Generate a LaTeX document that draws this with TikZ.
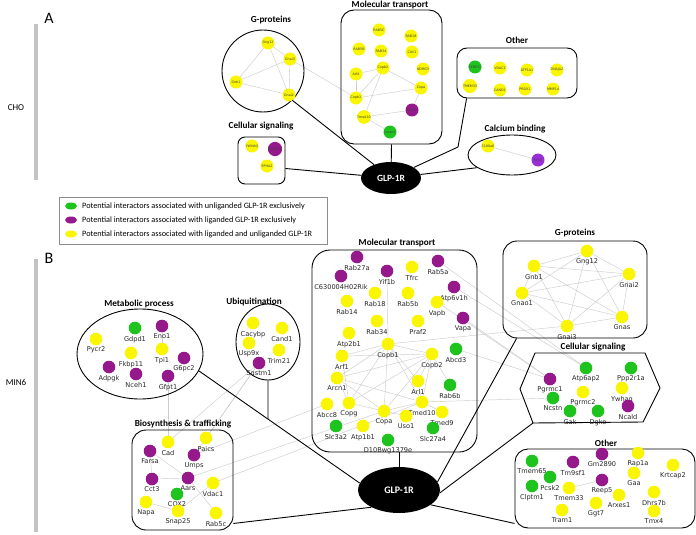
\documentclass[tikz,border=0pt]{standalone}
\usepackage{fontspec}
\setmainfont{Carlito}
\newfontfamily\dejavu{DejaVu Sans}
\usetikzlibrary{shapes.geometric,backgrounds}
\definecolor{nyel}{RGB}{250,245,0}
\definecolor{ngrn}{RGB}{30,195,30}
\definecolor{nmag}{RGB}{150,25,140}
\definecolor{nvio}{RGB}{155,45,215}
\definecolor{edgegray}{RGB}{205,205,205}
\definecolor{bargray}{RGB}{195,195,195}
\tikzset{
  bn/.style={circle, minimum size=12.6pt, inner sep=0pt},
  tn/.style={circle, minimum size=13pt, inner sep=0pt, text=black!75, font=\dejavu\fontsize{3.3}{4}\selectfont},
  blab/.style={font=\dejavu\fontsize{6.6}{7}\selectfont, inner sep=0pt, label distance=1.3pt, text=black!85},
  edge/.style={draw=edgegray, line width=0.45pt},
  grp/.style={draw=black, line width=0.9pt, inner sep=0pt},
  conn/.style={draw=black, line width=0.9pt},
  ttl/.style={font=\bfseries\fontsize{9.2}{10}\selectfont, inner sep=0pt},
  legtxt/.style={font=\fontsize{8.2}{9}\selectfont, anchor=west, inner sep=0pt},
  legdot/.style={ellipse, minimum width=12pt, minimum height=7pt, inner sep=0pt},
  glp/.style={ellipse, fill=black, text=white, inner sep=0pt, font=\bfseries\fontsize{9.5}{10}\selectfont},
}
\newcommand{\BN}[5]{\node[bn,fill=#4,label={[blab]below:#5}] (#1) at (#2,#3) {};}
\newcommand{\TN}[5]{\node[tn,fill=#4] (#1) at (#2,#3) {#5};}
\begin{document}
\begin{tikzpicture}[x=1pt,y=-1pt]
\useasboundingbox (0,0) rectangle (696,535);
\begin{pgfonlayer}{background}
\fill[white] (0,0) rectangle (696,535);
\end{pgfonlayer}

% ---------- panel labels ----------
\draw[bargray, line width=4.5pt] (36,24) -- (36,180);
\draw[bargray, line width=4.5pt] (36,259) -- (36,532);
\node[font=\fontsize{16}{18}\selectfont, inner sep=0pt] (labA) at (49,18) {A};
\node[font=\fontsize{16}{18}\selectfont, inner sep=0pt] (labB) at (49,258) {B};
\node[font=\fontsize{9}{10}\selectfont, inner sep=0pt] (labCHO) at (16,108) {CHO};
\node[font=\fontsize{9}{10}\selectfont, inner sep=0pt] (labMIN) at (16,382) {MIN6};

% ================= TOP (CHO) =================
\node[grp, ellipse, minimum width=82pt, minimum height=82pt] (topG) at (263,71) {};
\node[ttl] (topGt) at (271,20) {G-proteins};
\TN{tGng12}{268}{43}{nyel}{Gng12}
\TN{tGnb1}{236}{82}{nyel}{Gnb1}
\TN{tGnai3}{290}{59}{nyel}{Gnai3}
\TN{tGnai2}{289}{95}{nyel}{Gnai2}

\node[grp, rectangle, rounded corners=13pt, minimum width=101pt, minimum height=134pt] (topMol) at (391.5,77) {};
\node[ttl] (topMolt) at (390,5) {Molecular transport};
\TN{tRAB5C}{379}{30}{nyel}{RAB5C}
\TN{tRAB18}{411}{36}{nyel}{RAB18}
\TN{tRAB5B}{359}{49}{nyel}{RAB5B}
\TN{tRAB34}{381}{51}{nyel}{RAB34}
\TN{tCAV1}{412}{52}{nyel}{CAV1}
\TN{tNDRG3}{423}{69}{nyel}{NDRG3}
\TN{tCopb2}{383}{68}{nyel}{Copb2}
\TN{tArf4}{356}{74}{nyel}{Arf4}
\TN{tCopa}{421}{88}{nyel}{Copa}
\TN{tCopb1}{356}{98}{nyel}{Copb1}
\TN{tArcn1}{412}{110}{nmag}{Arcn1}
\TN{tTmed10}{364}{117}{nyel}{Tmed10}
\TN{tLman2}{390}{132}{ngrn}{Lman2}

\node[grp, rectangle, rounded corners=10pt, minimum width=120pt, minimum height=50pt] (topO) at (517,73) {};
\node[ttl] (topOt) at (517,40) {Other};
\TN{tFKBP11}{475}{67}{ngrn}{FKBP11}
\TN{tVDAC1}{500}{68}{nyel}{VDAC1}
\TN{tATP1A1}{527}{70}{nyel}{ATP1A1}
\TN{tDNAJA2}{557}{70}{nyel}{DNAJA2}
\TN{tTMEM33}{470}{86}{nyel}{TMEM33}
\TN{tCAND1}{500}{90}{nyel}{CAND1}
\TN{tPRDX1}{525}{89}{nyel}{PRDX1}
\TN{tMMP14}{553}{89}{nyel}{MMP14}

\node[grp, rectangle, rounded corners=7pt, minimum width=47pt, minimum height=47pt] (topC) at (261.5,160.5) {};
\node[ttl] (topCt) at (261,126) {Cellular signaling};
\TN{tYWHAQ}{252}{146}{nyel}{YWHAQ}
\TN{tPGRMC1}{275}{149}{nmag}{PGRMC1}
\TN{tEPHA2}{267}{166}{nyel}{EPHA2}

\node[grp, ellipse, minimum width=88pt, minimum height=40pt] (topCa) at (512,155) {};
\node[ttl] (topCat) at (515,129) {Calcium binding};
\TN{tS100a6}{488}{146}{nyel}{S100a6}
\TN{tRcn2}{538}{160}{nvio}{Rcn2}

\node[glp, minimum width=60pt, minimum height=32pt] (glpT) at (391,178) {GLP-1R};

\draw[conn] (topG.-45) -- (glpT);
\draw[conn] ([yshift=-8pt]topC.east) -- (glpT);
\draw[conn] (topMol.south) -- (glpT);
\coordinate (obend) at (458,147);
\draw[conn] (glpT) -- (obend) -- ([xshift=10pt]topO.south west);
\draw[conn] (topCa.200) -- (glpT);

% ---------- legend ----------
\node[draw=black!45, line width=0.6pt, rectangle, minimum width=268pt, minimum height=47pt, inner sep=0pt] (legend) at (193,220.5) {};
\node[legdot, fill=ngrn] (lg1) at (71,206) {};
\node[legdot, fill=nmag] (lg2) at (71,220) {};
\node[legdot, fill=nyel] (lg3) at (71,234) {};
\node[legtxt] (lt1) at (82,206) {Potential interactors associated with unliganded GLP-1R exclusively};
\node[legtxt] (lt2) at (82,220) {Potential interactors associated with liganded GLP-1R exclusively};
\node[legtxt] (lt3) at (82,234) {Potential interactors associated with liganded and unliganded GLP-1R};

% ================= BOTTOM (MIN6) =================
\node[grp, ellipse, minimum width=126pt, minimum height=90pt] (metab) at (140,354) {};
\node[ttl] (metabt) at (139,304) {Metabolic process};
\BN{bGdpd1}{135}{328}{ngrn}{Gdpd1}
\BN{bEno1}{162}{326}{nmag}{Eno1}
\BN{bPycr2}{96}{339}{nyel}{Pycr2}
\BN{bFkbp11}{131}{353}{nyel}{Fkbp11}
\BN{bTpi1}{162}{349}{nyel}{Tpi1}
\BN{bG6pc2}{184}{358}{nmag}{G6pc2}
\BN{bAdpgk}{109}{367}{nmag}{Adpgk}
\BN{bNceh1}{136}{374}{nmag}{Nceh1}
\BN{bGfpt1}{168}{376}{nmag}{Gfpt1}

\node[grp, ellipse, minimum width=64pt, minimum height=76pt] (ubiq) at (268,342) {};
\node[ttl] (ubiqt) at (254,302) {Ubiquitination};
\BN{bCacybp}{253}{323}{nyel}{Cacybp}
\BN{bCand1}{282}{328}{nyel}{Cand1}
\BN{bUsp9x}{249}{343}{nyel}{Usp9x}
\BN{bTrim21}{279}{350}{nyel}{Trim21}
\BN{bSqstm1}{259}{363}{nmag}{Sqstm1}

\node[grp, rectangle, rounded corners=14pt, minimum width=101pt, minimum height=100pt] (bios) at (182.5,480) {};
\node[ttl] (biost) at (183,424) {Biosynthesis \& trafficking};
\BN{bCad}{168}{442}{nyel}{Cad}
\BN{bPaics}{206}{438}{nyel}{Paics}
\BN{bFarsa}{150}{451}{nmag}{Farsa}
\BN{bUmps}{194}{455}{nmag}{Umps}
\BN{bCct3}{152}{479}{nmag}{Cct3}
\BN{bAars}{188}{478}{nmag}{Aars}
\BN{bVdac1}{213}{483}{nyel}{Vdac1}
\BN{bCOX2}{177}{494}{ngrn}{COX2}
\BN{bNapa}{146}{502}{nyel}{Napa}
\BN{bSnap25}{178}{511}{nyel}{Snap25}
\BN{bRab5c}{216}{513}{nyel}{Rab5c}

\node[grp, rectangle, rounded corners=18pt, minimum width=165pt, minimum height=202pt] (botMol) at (394.5,351) {};
\node[ttl] (botMolt) at (397,243) {Molecular transport};
\BN{bRab27a}{357}{257}{nmag}{Rab27a}
\BN{bC630}{341}{276}{nmag}{C630004H02Rik}
\BN{bYif1b}{387}{271}{nmag}{Yif1b}
\BN{bTfrc}{412}{267}{nyel}{Tfrc}
\BN{bRab5a}{438}{261}{nmag}{Rab5a}
\BN{bAtp6v1h}{454}{287}{nmag}{Atp6v1h}
\BN{bRab18}{375}{293}{nyel}{Rab18}
\BN{bRab5b}{408}{293}{nyel}{Rab5b}
\BN{bRab14}{347}{301}{nyel}{Rab14}
\BN{bVapb}{437}{302}{nyel}{Vapb}
\BN{bVapa}{463}{318}{nmag}{Vapa}
\BN{bRab34}{377}{321}{nyel}{Rab34}
\BN{bPraf2}{418}{321}{nyel}{Praf2}
\BN{bAtp2b1}{349}{333}{nyel}{Atp2b1}
\BN{bCopb1}{388}{344}{nyel}{Copb1}
\BN{bCopb2}{432}{354}{nyel}{Copb2}
\BN{bAbcd3}{456}{349}{ngrn}{Abcd3}
\BN{bArf1}{342}{356}{nyel}{Arf1}
\BN{bArcn1}{337}{378}{nyel}{Arcn1}
\BN{bArl1}{418}{381}{nyel}{Arl1}
\BN{bRab6b}{450}{385}{ngrn}{Rab6b}
\BN{bTmed10}{422}{402}{nyel}{Tmed10}
\BN{bAbcc8}{327}{404}{nyel}{Abcc8}
\BN{bCopg}{349}{403}{nyel}{Copg}
\BN{bCopa}{384}{411}{nyel}{Copa}
\BN{bUso1}{406}{416}{nyel}{Uso1}
\BN{bTmed9}{442}{412}{nyel}{Tmed9}
\BN{bSlc3a2}{336}{426}{ngrn}{Slc3a2}
\BN{bAtp1b1}{363}{426}{nyel}{Atp1b1}
\BN{bSlc27a4}{433}{428}{ngrn}{Slc27a4}
\BN{bD10}{388}{440}{ngrn}{D10Bwg1379e}

\node[grp, rectangle, rounded corners=14pt, minimum width=144pt, minimum height=97pt] (botG) at (575,289.5) {};
\node[ttl] (botGt) at (575,233) {G-proteins};
\BN{bGnb1}{534}{266}{nyel}{Gnb1}
\BN{bGng12}{587}{251}{nyel}{Gng12}
\BN{bGnai2}{629}{274}{nyel}{Gnai2}
\BN{bGnao1}{522}{293}{nyel}{Gnao1}
\BN{bGnas}{622}{317}{nyel}{Gnas}
\BN{bGnai3}{567}{326}{nyel}{Gnai3}

\coordinate (hexL) at (520,389);
\coordinate (hexTL) at (535,353);
\coordinate (hexTR) at (645,353);
\coordinate (hexR) at (660,388);
\coordinate (hexBR) at (643,422);
\coordinate (hexBL) at (533,423);
\draw[grp, line join=round] (hexL) -- (hexTL) -- (hexTR) -- (hexR) -- (hexBR) -- (hexBL) -- cycle;
\node[ttl] (hext) at (593,347) {Cellular signaling};
\BN{bAtp6ap2}{586}{368}{ngrn}{Atp6ap2}
\BN{bPpp2r1a}{631}{368}{ngrn}{Ppp2r1a}
\BN{bPgrmc1}{550}{379}{nmag}{Pgrmc1}
\BN{bPgrmc2}{583}{392}{nyel}{Pgrmc2}
\BN{bYwhaq}{622}{388}{nyel}{Ywhaq}
\BN{bNcstn}{553}{398}{ngrn}{Ncstn}
\BN{bNcald}{628}{406}{nmag}{Ncald}
\BN{bGak}{570}{411}{ngrn}{Gak}
\BN{bDgke}{598}{411}{ngrn}{Dgke}

\node[grp, rectangle, rounded corners=13pt, minimum width=180pt, minimum height=79pt] (botO) at (605,488.5) {};
\node[ttl] (botOt) at (606,443) {Other};
\BN{bTmem65}{532}{461}{ngrn}{Tmem65}
\BN{bTm9sf1}{573}{462}{nmag}{Tm9sf1}
\BN{bGm2890}{602}{454}{nmag}{Gm2890}
\BN{bRap1a}{638}{453}{nyel}{Rap1a}
\BN{bKrtcap2}{673}{465}{nyel}{Krtcap2}
\BN{bPcsk2}{550}{477}{ngrn}{Pcsk2}
\BN{bClptm1}{532}{486}{ngrn}{Clptm1}
\BN{bTmem33}{569}{488}{nyel}{Tmem33}
\BN{bReep5}{602}{480}{nmag}{Reep5}
\BN{bGaa}{634}{473}{nyel}{Gaa}
\BN{bArxes1}{619}{495}{nyel}{Arxes1}
\BN{bDhrs7b}{654}{492}{nyel}{Dhrs7b}
\BN{bGgt7}{596}{503}{nyel}{Ggt7}
\BN{bTram1}{562}{510}{nyel}{Tram1}
\BN{bTmx4}{654}{511}{nyel}{Tmx4}

\node[glp, minimum width=82pt, minimum height=46pt, font=\bfseries\fontsize{10}{11}\selectfont] (glpB) at (399,490) {GLP-1R};

% black connectors (bottom)
\draw[conn] (botMol.south -| glpB.north) -- (glpB.north);
\coordinate (mS) at (metab.-16);
\coordinate (gW) at (glpB.170);
\draw[conn] (mS) -- (gW);
\coordinate (uS) at (ubiq.south);
\coordinate (uL) at ([yshift=-120pt]ubiq.south);
\coordinate (uJ) at (intersection of mS--gW and uS--uL);
\draw[conn] (uS) -- (uJ);
\draw[conn] ([yshift=7pt]bios.south east) -- (glpB.212);
\draw[conn] ([xshift=14pt]botG.south west) -- (glpB.12);
\draw[conn] (hexBL) -- (glpB.-4);
\draw[conn] ([yshift=5pt]botO.south west) -- (glpB.-25);

\begin{pgfonlayer}{background}
\foreach \a/\b in {tGng12/tGnai3, tGng12/tGnai2, tGnb1/tGng12, tGnb1/tGnai3, tGnb1/tGnai2, tGnai3/tGnai2, tGnai3/tCopb1,
  tArf4/tCopb2, tArf4/tCopb1, tCopb2/tCopb1, tCopb2/tCopa, tCopb1/tCopa, tCopb2/tTmed10, tTmed10/tArcn1, tArcn1/tCopa, tTmed10/tLman2,
  tS100a6/tRcn2,
  bEno1/bTpi1, bGfpt1/bCad, bSqstm1/bPaics, bSqstm1/bCad, bSqstm1/bUmps,
  bFarsa/bCct3, bCct3/bAars, bFarsa/bAars, bAars/bRab5c, bNapa/bSnap25, bSnap25/bVdac1, bAars/bCopa, bVdac1/bTmed10, bAbcc8/bUmps,
  bYif1b/bCopb1, bCopb1/bArf1, bCopb1/bCopb2, bCopb1/bArcn1, bCopb1/bCopg, bCopb1/bCopa, bCopb1/bArl1, bCopb1/bTmed10,
  bArf1/bCopb2, bArf1/bCopg, bArcn1/bCopb2, bArcn1/bCopg, bArcn1/bCopa, bArcn1/bTmed10, bCopb2/bArl1, bCopb2/bTmed10,
  bCopb2/bCopa, bCopb2/bRab6b, bCopb2/bCopg, bCopg/bCopa, bCopa/bTmed10, bCopa/bUso1, bTmed10/bTmed9, bArl1/bTmed10,
  bRab5a/bAtp6ap2, bAtp6v1h/bAtp6ap2, bVapb/bPgrmc1, bVapa/bPgrmc1, bAbcd3/bPgrmc1, bCopb1/bGnai3, bTmed10/bNcstn,
  bGnb1/bGng12, bGnb1/bGnai2, bGnb1/bGnao1, bGnb1/bGnas, bGnb1/bGnai3, bGng12/bGnai2, bGng12/bGnao1, bGng12/bGnas, bGng12/bGnai3,
  bGnai2/bGnao1, bGnai2/bGnas, bGnai2/bGnai3, bGnao1/bGnas, bGnao1/bGnai3, bGnas/bGnai3,
  bTmem33/bReep5}
  {\draw[edge] (\a) -- (\b);}
\end{pgfonlayer}
\end{tikzpicture}
\end{document}
